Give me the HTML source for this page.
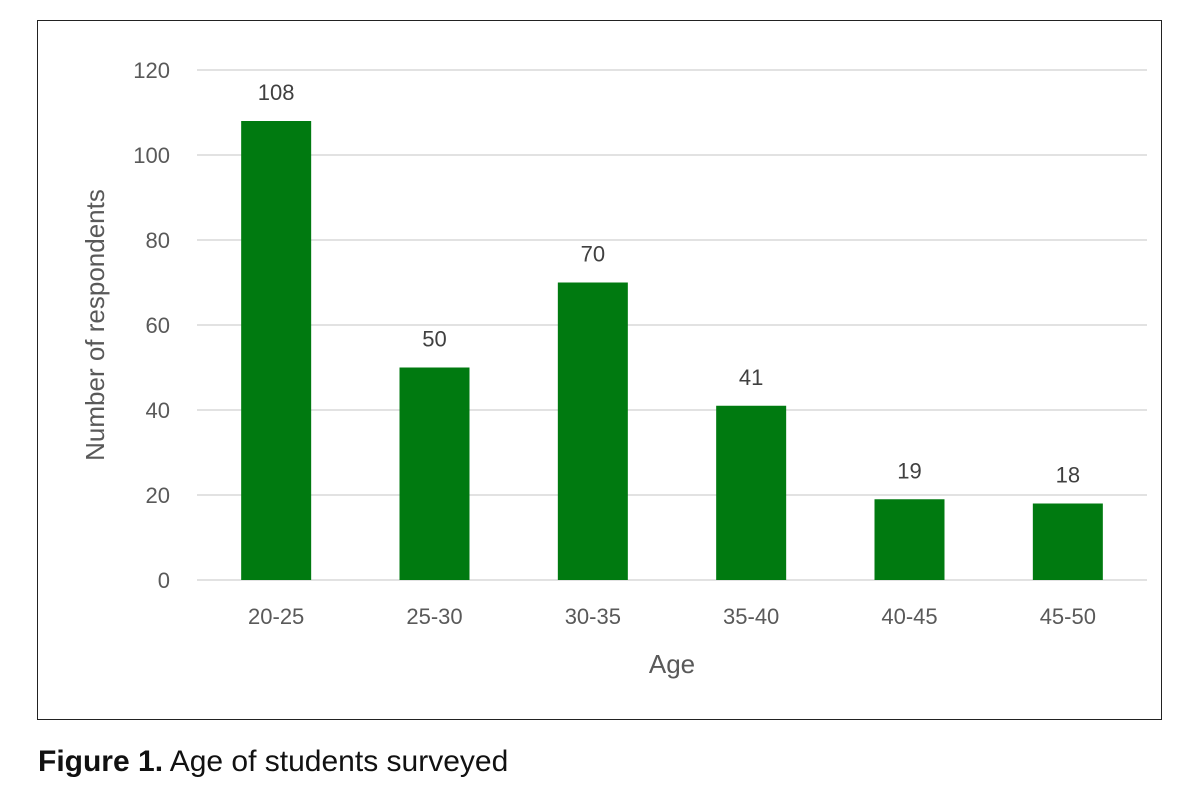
<!DOCTYPE html>
<html><head><meta charset="utf-8"><style>
body{margin:0;background:#fff;width:1200px;height:802px;overflow:hidden;font-family:"Liberation Sans",sans-serif}
#frame{position:absolute;left:37px;top:20px;width:1125px;height:700px;border:1.5px solid #222;box-sizing:border-box}
#cap{position:absolute;left:38px;top:745px;font-size:30px;color:#111}
</style></head><body>
<div id="frame"></div>
<svg id="chart" width="1200" height="802" style="position:absolute;left:0;top:0"></svg>
<div id="cap"><b>Figure 1.</b> Age of students surveyed</div>
<script>
const categories=["20-25","25-30","30-35","35-40","40-45","45-50"];
const values=[108,50,70,41,19,18];
const yTicks=[0,20,40,60,80,100,120];
const svg=document.getElementById('chart');
const NS='http://www.w3.org/2000/svg';
const x0=197,x1=1147,y0=580,y1=70,ymax=120;
const y=v=>y0-(v/ymax)*(y0-y1);
const band=(x1-x0)/categories.length;
const xc=i=>x0+band*(i+0.5);
function mk(t,a,txt){const e=document.createElementNS(NS,t);for(const k in a)e.setAttribute(k,a[k]);if(txt!==undefined)e.textContent=txt;svg.appendChild(e);return e;}
yTicks.forEach(t=>{
 const l=mk('line',{x1:x0,x2:x1,y1:y(t),y2:y(t),stroke:'#d9d9d9','stroke-width':1.5});
 
 
 const tx=mk('text',{x:170,y:y(t)+8,'text-anchor':'end','font-size':22,fill:'#595959','font-family':'Liberation Sans,sans-serif'},t);
 
 
});
categories.forEach((c,i)=>{
 const w=70;
 const r=mk('rect',{x:xc(i)-w/2,y:y(values[i]),width:w,height:y0-y(values[i]),fill:'#007a10'});
 
 
 const v=mk('text',{x:xc(i),y:y(values[i])-21,'text-anchor':'middle','font-size':22,fill:'#404040','font-family':'Liberation Sans,sans-serif'},values[i]);
 
 
 const lb=mk('text',{x:xc(i),y:624,'text-anchor':'middle','font-size':22,fill:'#595959','font-family':'Liberation Sans,sans-serif'},c);
 
 
});
const xt=mk('text',{x:672,y:673,'text-anchor':'middle','font-size':26,fill:'#595959','font-family':'Liberation Sans,sans-serif'},'Age');


const yt=mk('text',{x:0,y:0,transform:'translate(104,325) rotate(-90)','text-anchor':'middle','font-size':26,fill:'#595959','font-family':'Liberation Sans,sans-serif'},'Number of respondents');


</script>
</body></html>
